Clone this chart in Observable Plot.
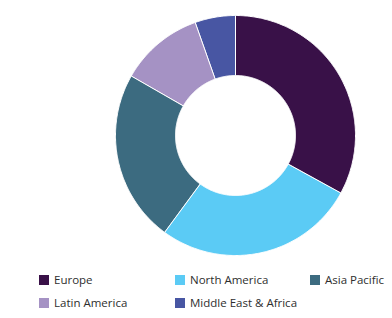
<!DOCTYPE html>
<html>
<head>
<meta charset="utf-8">
<script src="https://cdn.jsdelivr.net/npm/d3@7"></script>
<script src="https://cdn.jsdelivr.net/npm/@observablehq/plot@0.6"></script>
<style>
  html, body { margin: 0; padding: 0; background: #fff; }
  #wrap { position: relative; width: 392px; height: 318px; overflow: hidden; }
  #legend { position: absolute; left: 0; top: 0; width: 392px; height: 318px; pointer-events: none;
            font-family: "Open Sans", "DejaVu Sans", sans-serif; font-size: 11.5px; color: #2e2e2e; }
  .sw { position: absolute; width: 10px; height: 10px; }
  .lb { position: absolute; white-space: nowrap; line-height: 14px; }
</style>
</head>
<body>
<div id="wrap"><div id="chart"></div><div id="legend"></div></div>
<script>
const regions = ["Europe", "North America", "Asia Pacific", "Latin America", "Middle East & Africa"];
const shares = [33.0, 27.1, 23.2, 11.3, 5.4];
const colors = ["#391148", "#5bcbf5", "#3c6b80", "#a592c4", "#4856a3"];

const W = 392, H = 265;
const cx = 235, cy = 135, R = 120, r0 = 60;

const pie = d3.pie().sort(null).value(d => d.value)(regions.map((name, i) => ({name, value: shares[i]})));

function ring(a0, a1) {
  const n = Math.max(8, Math.ceil((a1 - a0) / 0.01));
  const pts = [];
  for (let k = 0; k <= n; k++) { const a = a0 + (a1 - a0) * k / n; pts.push([R * Math.sin(a), -R * Math.cos(a)]); }
  for (let k = n; k >= 0; k--) { const a = a0 + (a1 - a0) * k / n; pts.push([r0 * Math.sin(a), -r0 * Math.cos(a)]); }
  pts.push(pts[0]);
  return pts;
}

const features = pie.map(p => ({
  type: "Feature",
  properties: {name: p.data.name},
  geometry: {type: "Polygon", coordinates: [ring(p.startAngle, p.endAngle)]}
}));

const frame = {type: "Polygon", coordinates: [[[-cx, -cy], [W - cx, -cy], [W - cx, H - cy], [-cx, H - cy], [-cx, -cy]]]};

const chart = Plot.plot({
  width: W, height: H, margin: 0,
  projection: {type: "identity", domain: frame},
  color: {domain: regions, range: colors},
  marks: [
    Plot.geo(features, {fill: d => d.properties.name, stroke: "white", strokeWidth: 1})
  ]
});
document.getElementById("chart").appendChild(chart);

const legendPos = [[39, 275], [175, 275], [310, 275], [39, 298], [175, 298]];
const leg = document.getElementById("legend");
regions.forEach((name, i) => {
  const [x, y] = legendPos[i];
  const s = document.createElement("div"); s.className = "sw";
  s.style.left = x + "px"; s.style.top = y + "px"; s.style.background = colors[i];
  const t = document.createElement("div"); t.className = "lb";
  t.style.left = (x + 15) + "px"; t.style.top = (y - 2) + "px"; t.textContent = name;
  leg.appendChild(s); leg.appendChild(t);
});
</script>
</body>
</html>
